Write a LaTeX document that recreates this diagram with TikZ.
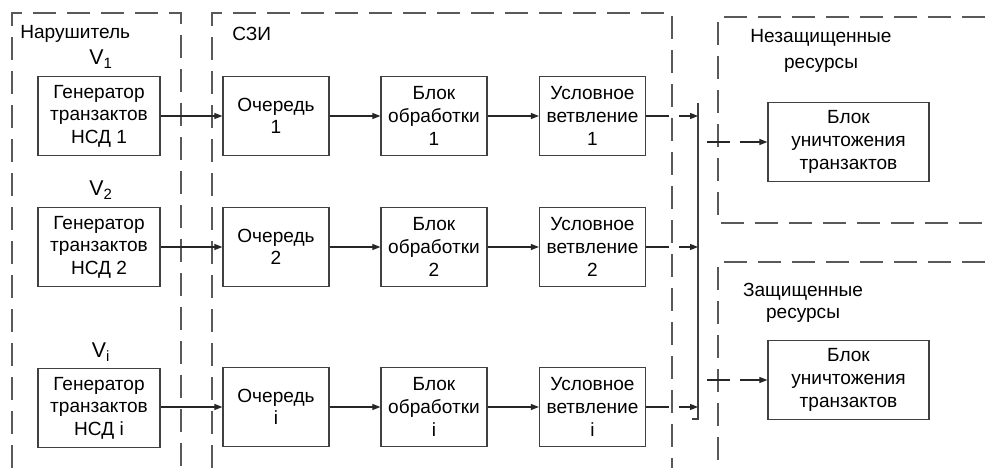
\documentclass[tikz,border=0pt]{standalone}
\usepackage{fontspec}
\setmainfont{Liberation Sans}
\usetikzlibrary{arrows.meta}

\begin{document}
\begin{tikzpicture}[x=0.75pt, y=-0.75pt,
	blok/.style={shape=rectangle,
				 draw=black!75,
				 line width=0.9pt,
				 align=center,
				 inner sep=0pt,
				 minimum height=59.25pt,
				 font=\fontsize{14.3pt}{17pt}\selectfont},
	zona/.style={draw=black!65,
				 line width=0.9pt,
				 dash pattern=on 17pt off 8.5pt},
	strelka/.style={draw=black!85,
					line width=0.8pt,
					-{Triangle[length=6pt, width=4.5pt]}},
	razryv/.style={strelka,
				   dash pattern=on 17.25pt off 7.5pt},
	metka/.style={align=center,
				  inner sep=0pt,
				  font=\fontsize{14.3pt}{17pt}\selectfont}]
	\useasboundingbox (0,0) rectangle (985,468);

	% zones
	\draw[zona] (12,468) -- (12,13) -- (181,13) -- (181,468);
	\draw[zona] (212,468) -- (212,13) -- (672,13) -- (672,468);
	\draw[zona] (985,17) -- (718,17) -- (718,223) -- (985,223);
	\draw[zona] (985,262) -- (718,262) -- (718,468);

	\draw (20,34) node[metka, anchor=west](narush){Нарушитель};
	\draw (232,34) node[metka, anchor=west](szi){СЗИ};
	\draw (821,51) node[metka,
						font=\fontsize{14.3pt}{20pt}\selectfont](nezasch){Незащищенные\\ресурсы};
	\draw (803,303) node[metka,
						 font=\fontsize{14.3pt}{16.5pt}\selectfont](zasch){Защищенные\\ресурсы};

	% generators
	\draw (101,59) node[metka, font=\fontsize{16pt}{18pt}\selectfont](v1){V\textsubscript{1}};
	\draw (99,116) node[blok, minimum width=91.5pt](gen1){Генератор\\транзактов\\НСД 1};
	\draw (101,190) node[metka, font=\fontsize{16pt}{18pt}\selectfont](v2){V\textsubscript{2}};
	\draw (99,247) node[blok, minimum width=91.5pt](gen2){Генератор\\транзактов\\НСД 2};
	\draw (101,352) node[metka, font=\fontsize{16pt}{18pt}\selectfont](vi){V\textsubscript{i}};
	\draw (99,408) node[blok, minimum width=91.5pt](geni){Генератор\\транзактов\\НСД i};

	% queues
	\draw (276,116) node[blok, minimum width=79.5pt](och1){Очередь\\1};
	\draw (276,247) node[blok, minimum width=79.5pt](och2){Очередь\\2};
	\draw (276,407) node[blok, minimum width=79.5pt](ochi){Очередь\\i};

	% processing
	\draw (434,116) node[blok, minimum width=79.5pt](obr1){Блок\\обработки\\1};
	\draw (434,247) node[blok, minimum width=79.5pt](obr2){Блок\\обработки\\2};
	\draw (434,407) node[blok, minimum width=79.5pt](obri){Блок\\обработки\\i};

	% branching
	\draw (592.5,116) node[blok, minimum width=79.5pt](vetv1){Условное\\ветвление\\1};
	\draw (592.5,247) node[blok, minimum width=79.5pt](vetv2){Условное\\ветвление\\2};
	\draw (592.5,407) node[blok, minimum width=79.5pt](vetvi){Условное\\ветвление\\i};

	% destruction
	\draw (848.5,142) node[blok, minimum width=120.75pt](unich1){Блок\\уничтожения\\транзактов};
	\draw (848.5,380) node[blok, minimum width=120.75pt](unich2){Блок\\уничтожения\\транзактов};

	% bus
	\coordinate (bustop) at (698,103);
	\coordinate (busbot) at (698,419);
	\coordinate (bushook) at (692,419);
	\coordinate (vhod1) at (698,116);
	\coordinate (vhod2) at (698,247);
	\coordinate (vhodi) at (698,407);
	\coordinate (vyhod1) at (707,142);
	\coordinate (vyhod2) at (707,380);
	\draw[draw=black!75, line width=0.9pt] (bustop) -- (busbot) -- (bushook);

	\draw[strelka] (gen1) -- (och1);
	\draw[strelka] (gen2) -- (och2);
	\draw[strelka] (geni.east |- ochi) -- (ochi);

	\draw[strelka] (och1) -- (obr1);
	\draw[strelka] (och2) -- (obr2);
	\draw[strelka] (ochi) -- (obri);

	\draw[strelka] (obr1) -- (vetv1);
	\draw[strelka] (obr2) -- (vetv2);
	\draw[strelka] (obri) -- (vetvi);

	\draw[razryv] (vetv1) -- (vhod1);
	\draw[razryv] (vetv2) -- (vhod2);
	\draw[razryv] (vetvi) -- (vhodi);

	\draw[razryv] (vyhod1) -- (unich1);
	\draw[razryv] (vyhod2) -- (unich2);
\end{tikzpicture}
\end{document}
